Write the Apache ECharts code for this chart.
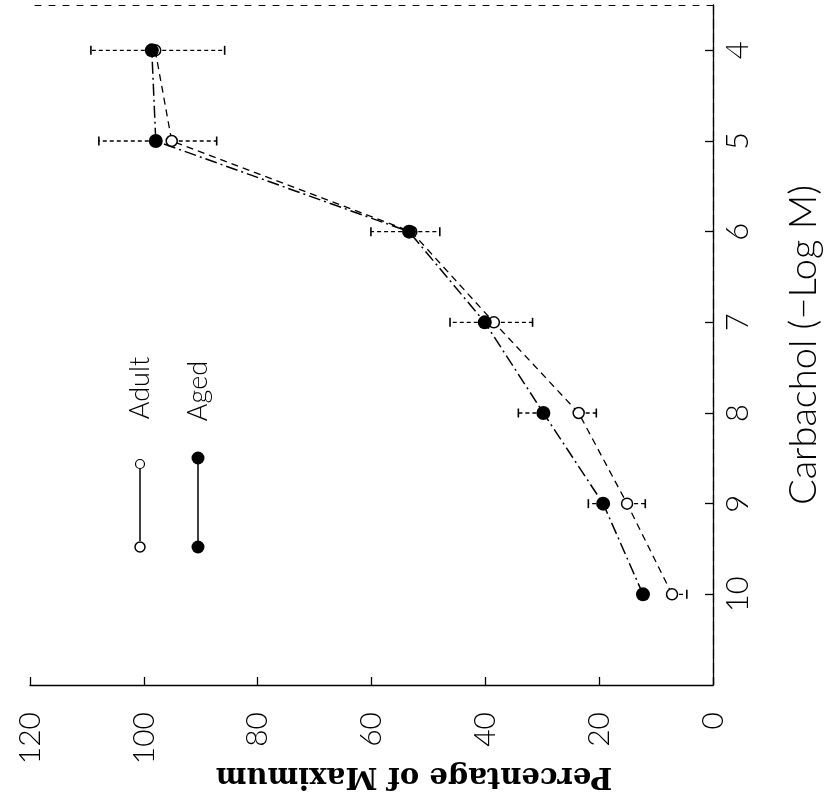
<!DOCTYPE html>
<html>
<head>
<meta charset="utf-8">
<script src="https://cdn.jsdelivr.net/npm/echarts@6/dist/echarts.min.js"></script>
<style>html,body{margin:0;padding:0;background:#fff;}#c{width:825px;height:803px;}</style>
</head>
<body>
<div id="c"></div>
<script>
// Carbachol concentration (-log M)
const concentrations = [10, 9, 8, 7, 6, 5, 4];
// Adult group (open circles) — mean % of maximum and SE (drawn downward)
const adultMean = [7.2, 15.1, 23.6, 38.5, 53.0, 95.1, 98.0];
const adultSE   = [2.6, 3.2, 3.1, 6.8, 5.0, 7.9, 12.2];
// Aged group (filled circles) — mean % of maximum and SE (drawn upward)
const agedMean = [12.3, 19.3, 29.8, 40.1, 53.4, 97.9, 98.6];
const agedSE   = [0.8, 2.6, 4.4, 6.1, 6.7, 10.0, 10.7];
// Axis ticks
const percentTicks = [0, 20, 40, 60, 80, 100, 120];
const concTicks = [4, 5, 6, 7, 8, 9, 10];

const chart = echarts.init(document.getElementById('c'), null, {renderer: 'canvas'});

const adultPts = concentrations.map((c, i) => [adultMean[i], c]);
const agedPts = concentrations.map((c, i) => [agedMean[i], c]);
const adultErr = concentrations.map((c, i) => [adultMean[i], c, adultMean[i] - adultSE[i]]);
const agedErr = concentrations.map((c, i) => [agedMean[i], c, agedMean[i] + agedSE[i]]);

function errRender(params, api) {
  const p1 = api.coord([api.value(0), api.value(1)]);
  const p2 = api.coord([api.value(2), api.value(1)]);
  const style = {stroke: '#000', lineWidth: 1.3, lineDash: [4, 3]};
  return {
    type: 'group',
    children: [
      {type: 'line', shape: {x1: p1[0], y1: p1[1], x2: p2[0], y2: p2[1]}, style: style},
      {type: 'line', shape: {x1: p2[0], y1: p2[1] - 4.5, x2: p2[0], y2: p2[1] + 4.5}, style: {stroke: '#000', lineWidth: 1.6}}
    ]
  };
}

const labelFont = 'Lato, "DejaVu Sans", sans-serif';

chart.setOption({
  animation: false,
  backgroundColor: '#fff',
  grid: {left: 30, right: 112, top: 5, bottom: 118, containLabel: false, outerBoundsMode: 'none'},
  xAxis: [{
    type: 'value', min: 0, max: 120, interval: 20, inverse: true, position: 'bottom',
    axisLine: {show: true, lineStyle: {color: '#000', width: 1.3}},
    axisTick: {show: true, inside: true, length: 8, lineStyle: {color: '#000', width: 1.3}},
    axisLabel: {show: true, rotate: 90, margin: 27, fontSize: 30, color: '#000', fontFamily: labelFont, fontWeight: 300,
      customValues: percentTicks},
    splitLine: {show: false}
  }, {
    type: 'value', min: 0, max: 120, inverse: true, position: 'top',
    axisLine: {show: true, lineStyle: {color: '#000', width: 1, type: [6, 8]}},
    axisTick: {show: false}, axisLabel: {show: false}, splitLine: {show: false}
  }],
  yAxis: [{
    type: 'value', min: 3.5, max: 11, inverse: true, position: 'right',
    axisLine: {show: true, lineStyle: {color: '#000', width: 1.3}},
    axisTick: {show: true, inside: true, length: 8, customValues: concTicks, lineStyle: {color: '#000', width: 1.3}},
    axisLabel: {show: true, rotate: 90, margin: 9, fontSize: 31, color: '#000', fontFamily: labelFont, fontWeight: 300,
      customValues: concTicks},
    splitLine: {show: false},
    name: 'Carbachol (\u2212Log M)', nameLocation: 'middle', nameRotate: 90, nameGap: 72,
    nameTextStyle: {fontFamily: labelFont, fontWeight: 300, fontSize: 38, color: '#000'}
  }, {
    type: 'value', min: 3.5, max: 11, inverse: true, position: 'left',
    axisLine: {show: true, lineStyle: {color: '#000', width: 1.2, type: [10, 4]}},
    axisTick: {show: false}, axisLabel: {show: false}, splitLine: {show: false}
  }],
  series: [
    {type: 'custom', name: 'AdultErr', renderItem: errRender, data: adultErr, encode: {x: [0, 2], y: 1}, z: 2},
    {type: 'custom', name: 'AgedErr', renderItem: errRender, data: agedErr, encode: {x: [0, 2], y: 1}, z: 2},
    {
      type: 'line', name: 'Adult', data: adultPts, symbol: 'circle', symbolSize: 11, showSymbol: true, z: 3,
      itemStyle: {color: '#fff', borderColor: '#000', borderWidth: 1.5},
      lineStyle: {color: '#000', width: 1.3, type: [7, 5]}
    },
    {
      type: 'line', name: 'Aged', data: agedPts, symbol: 'circle', symbolSize: 14, showSymbol: true, z: 4,
      itemStyle: {color: '#000', borderColor: '#000', borderWidth: 0},
      lineStyle: {color: '#000', width: 1.5, type: [12, 4, 2, 4]}
    }
  ],
  graphic: [
    // bottom axis title (upside down, as in the rotated figure)
    {type: 'text', x: 414, y: 776, rotation: Math.PI,
      style: {text: 'Percentage of Maximum', font: 'bold 29px "DejaVu Serif", "Liberation Serif", serif', fill: '#000', align: 'center', verticalAlign: 'middle'}},
    // Adult legend
    {type: 'line', shape: {x1: 140, y1: 541, x2: 140, y2: 469}, style: {stroke: '#000', lineWidth: 1.5}},
    {type: 'circle', shape: {cx: 140, cy: 547, r: 5}, style: {fill: '#fff', stroke: '#000', lineWidth: 1.5}},
    {type: 'circle', shape: {cx: 140, cy: 464, r: 4.5}, style: {fill: '#fff', stroke: '#000', lineWidth: 1.2}},
    {type: 'text', x: 140, y: 388, rotation: Math.PI / 2,
      style: {text: 'Adult', font: '300 27px ' + labelFont, fill: '#000', align: 'center', verticalAlign: 'middle'}},
    // Aged legend
    {type: 'line', shape: {x1: 198, y1: 547, x2: 198, y2: 458}, style: {stroke: '#000', lineWidth: 1.5}},
    {type: 'circle', shape: {cx: 198, cy: 547, r: 6.5}, style: {fill: '#000'}},
    {type: 'circle', shape: {cx: 198, cy: 458, r: 6.5}, style: {fill: '#000'}},
    {type: 'text', x: 198, y: 391, rotation: Math.PI / 2,
      style: {text: 'Aged', font: '300 27px ' + labelFont, fill: '#000', align: 'center', verticalAlign: 'middle'}}
  ]
});
</script>
</body>
</html>
